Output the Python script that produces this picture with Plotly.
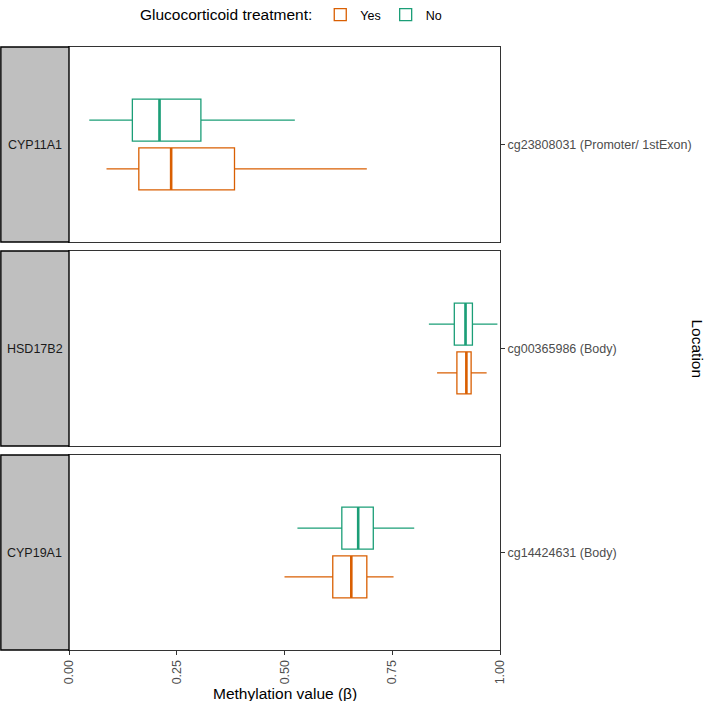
import plotly.graph_objects as go
from plotly.subplots import make_subplots

# data (methylation beta values)
genes = ["CYP11A1", "HSD17B2", "CYP19A1"]
probes = ["cg23808031 (Promoter/ 1stExon)", "cg00365986 (Body)", "cg14424631 (Body)"]
groups = ["Yes", "No"]

yes_low = [0.087, 0.854, 0.500]
yes_q1 = [0.162, 0.900, 0.612]
yes_med = [0.237, 0.922, 0.655]
yes_q3 = [0.384, 0.933, 0.691]
yes_high = [0.691, 0.969, 0.753]

no_low = [0.047, 0.835, 0.530]
no_q1 = [0.147, 0.894, 0.633]
no_med = [0.210, 0.920, 0.671]
no_q3 = [0.306, 0.936, 0.706]
no_high = [0.524, 0.994, 0.801]

x_ticks = [0, 0.25, 0.5, 0.75, 1.0]

colors = {"Yes": "#D95F02", "No": "#1B9E77"}
stats = {
    "Yes": (yes_low, yes_q1, yes_med, yes_q3, yes_high),
    "No": (no_low, no_q1, no_med, no_q3, no_high),
}

FONT = "Liberation Sans, Arial, sans-serif"
BOXGAP = 0.4
GROUPGAP = 0.14
STRIP = 69 / 431  # strip width as a fraction of the panel width

fig = make_subplots(rows=3, cols=1, shared_xaxes=True, vertical_spacing=9 / 603)

for i, gene in enumerate(genes):
    row = i + 1
    sx = "x" if row == 1 else f"x{row}"
    sy = "y" if row == 1 else f"y{row}"
    for g in groups:
        lo, q1, med, q3, hi = stats[g]
        fig.add_trace(go.Box(
            y=[probes[i]], q1=[q1[i]], median=[med[i]], q3=[q3[i]],
            lowerfence=[lo[i]], upperfence=[hi[i]],
            orientation="h", name=g, legendgroup=g, showlegend=(i == 0),
            offsetgroup=g, alignmentgroup=f"row{row}",
            boxpoints=False, whiskerwidth=0, fillcolor="rgba(0,0,0,0)",
            line=dict(color=colors[g], width=1.3),
            hoverinfo="skip"), row=row, col=1)

    # thicker median bars like ggplot's fatten
    half = 0.5 * (1 - BOXGAP) * (1 - GROUPGAP) / 2
    for k, g in enumerate(groups):
        centre = (-1 if k == 0 else 1) * 0.5 * (1 - BOXGAP) / 2
        m = stats[g][2][i]
        fig.add_shape(type="line", xref=sx, yref=sy,
                      x0=m, x1=m, y0=centre - half, y1=centre + half,
                      line=dict(color=colors[g], width=2.6), layer="above")

    # grey facet strip on the left
    fig.add_shape(type="rect", xref=f"{sx} domain", yref=f"{sy} domain",
                  x0=-STRIP + 0.002, x1=0, y0=0, y1=1,
                  fillcolor="#bfbfbf", line=dict(color="black", width=1.4))
    fig.add_annotation(xref=f"{sx} domain", yref=f"{sy} domain", x=-STRIP / 2, y=0.5,
                       xanchor="center", yanchor="middle", text=gene, showarrow=False,
                       font=dict(family=FONT, size=12.5, color="#1a1a1a"))

fig.update_xaxes(range=[0, 1], showline=True, linecolor="#333333", linewidth=1,
                 mirror=True, showgrid=False, zeroline=False, ticks="")
fig.update_xaxes(row=3, col=1, ticks="outside", ticklen=4, tickcolor="#333333",
                 tickvals=x_ticks, tickformat=".2f", tickangle=-90,
                 tickfont=dict(family=FONT, size=12.5, color="#4d4d4d"))
fig.update_yaxes(side="right", range=[-0.6, 0.6], showline=True, linecolor="#333333",
                 linewidth=1, mirror=True, showgrid=False, zeroline=False,
                 ticks="outside", ticklen=4, tickcolor="#333333",
                 tickfont=dict(family=FONT, size=12.5, color="#4d4d4d"))

fig.add_annotation(xref="paper", yref="paper", x=0.5, y=-43 / 603,
                   xanchor="center", yanchor="middle",
                   text="Methylation value (β)", showarrow=False,
                   font=dict(family=FONT, size=15.5, color="black"))
fig.add_annotation(xref="paper", yref="paper", x=(697 - 69) / 431, y=0.5,
                   xanchor="center", yanchor="middle", textangle=90,
                   text="Location", showarrow=False,
                   font=dict(family=FONT, size=15.5, color="black"))

fig.update_layout(
    width=708, height=701,
    margin=dict(l=69, r=208, t=47, b=51),
    paper_bgcolor="white", plot_bgcolor="white",
    boxmode="group", boxgap=BOXGAP, boxgroupgap=GROUPGAP,
    font=dict(family=FONT),
    legend=dict(orientation="h", x=0.16, xanchor="left",
                yref="container", y=1, yanchor="top",
                title=dict(text="Glucocorticoid treatment:", side="left",
                           font=dict(family=FONT, size=15.5, color="black")),
                font=dict(family=FONT, size=12.5, color="black"),
                itemwidth=30, traceorder="normal"),
)

# drop the browser's default page margin so the figure sits at the window corner
fig.write_html("out.html", config={"displayModeBar": False},
               post_script="document.body.style.margin='0px';")
